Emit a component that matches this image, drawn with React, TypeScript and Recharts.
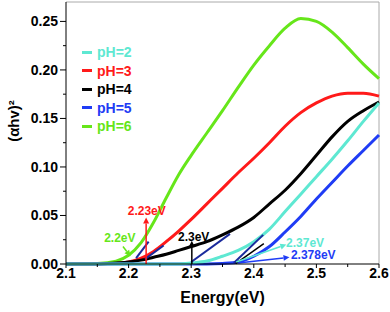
import { LineChart, Line, XAxis, YAxis, Legend, ReferenceLine, ReferenceDot } from "recharts";

const FONT = "Arial, 'Liberation Sans', sans-serif";

const energy = [2.1, 2.15, 2.18, 2.2, 2.22, 2.24, 2.26, 2.28, 2.3, 2.325, 2.35, 2.375, 2.4, 2.425, 2.45, 2.475, 2.5, 2.525, 2.55, 2.575, 2.6];
const ph2 = [0, 0, 0, 0, 0, 0, 0, 0, 0.001, 0.003, 0.008, 0.014, 0.023, 0.036, 0.054, 0.072, 0.09, 0.108, 0.127, 0.147, 0.166];
const ph3 = [0, 0, 0.0005, 0.002, 0.006, 0.013, 0.023, 0.034, 0.046, 0.062, 0.078, 0.094, 0.109, 0.125, 0.142, 0.156, 0.166, 0.173, 0.176, 0.176, 0.173];
const ph4 = [0, 0, 0.001, 0.002, 0.004, 0.007, 0.01, 0.014, 0.018, 0.023, 0.03, 0.038, 0.048, 0.062, 0.076, 0.093, 0.112, 0.131, 0.147, 0.158, 0.167];
const ph5 = [0, 0, 0, 0, 0, 0, 0, 0, 0, 0, 0.0005, 0.002, 0.008, 0.018, 0.033, 0.049, 0.067, 0.084, 0.101, 0.117, 0.133];
const ph6 = [0, 0.0005, 0.003, 0.009, 0.022, 0.043, 0.068, 0.092, 0.112, 0.135, 0.158, 0.182, 0.205, 0.225, 0.243, 0.253, 0.25, 0.239, 0.223, 0.206, 0.191];

const xTicks = [2.1, 2.15, 2.2, 2.25, 2.3, 2.35, 2.4, 2.45, 2.5, 2.55, 2.6];
const yTicks = [0, 0.025, 0.05, 0.075, 0.1, 0.125, 0.15, 0.175, 0.2, 0.225, 0.25];

const series = [
  { key: "ph2", name: "pH=2", color: "#5ee8d2" },
  { key: "ph3", name: "pH=3", color: "#ff1a1a" },
  { key: "ph4", name: "pH=4", color: "#000000" },
  { key: "ph5", name: "pH=5", color: "#1f3cf5" },
  { key: "ph6", name: "pH=6", color: "#66e61a" },
];
// draw order: cyan ends up on top near the baseline
const drawOrder = ["ph6", "ph3", "ph4", "ph5", "ph2"];

// tangent lines used to read the band gaps [x1, y1, x2, y2]
const tangents = [
  [2.212, 0.006, 2.232, 0.023],
  [2.226, 0.005, 2.256, 0.019],
  [2.3, 0.002, 2.362, 0.031],
  [2.368, 0.001, 2.415, 0.03],
];
const blackTangent = [2.371, 0.0005, 2.416, 0.021];

const arrows = [
  { from: [2.191, 0.018], to: [2.203, 0.008], color: "#66e61a" },
  { from: [2.228, 0.0], to: [2.228, 0.048], color: "#ff1a1a" },
  { from: [2.301, 0.0], to: [2.301, 0.024], color: "#000000" },
  { from: [2.372, 0.002], to: [2.452, 0.02], color: "#5ee8d2" },
  { from: [2.375, 0.001], to: [2.457, 0.007], color: "#1f3cf5" },
];

const notes = [
  { x: 2.186, y: 0.027, text: "2.2eV", color: "#66e61a" },
  { x: 2.229, y: 0.055, text: "2.23eV", color: "#ff1a1a" },
  { x: 2.304, y: 0.028, text: "2.3eV", color: "#000000" },
  { x: 2.482, y: 0.022, text: "2.37eV", color: "#5ee8d2" },
  { x: 2.495, y: 0.009, text: "2.378eV", color: "#1f3cf5" },
];

const data = energy.map((e, i) => ({
  e, ph2: ph2[i], ph3: ph3[i], ph4: ph4[i], ph5: ph5[i], ph6: ph6[i],
}));

const TICK_SIZE = 6;
const TICK_MARGIN = 2;
const onStep = (v: number, step: number) => Math.abs(v / step - Math.round(v / step)) < 1e-6;

const YTick = (p: any) => {
  const v = p.payload.value;
  const major = onStep(v, 0.05);
  const ax = p.x + TICK_SIZE + TICK_MARGIN;
  return (
    <g>
      <line x1={ax} x2={ax - (major ? 6 : 3)} y1={p.y} y2={p.y} stroke="#000" />
      {major && (
        <text x={ax - 8} y={p.y + 5} textAnchor="end" fontFamily={FONT} fontWeight={700} fontSize={14} fill="#000">
          {v.toFixed(2)}
        </text>
      )}
    </g>
  );
};

const XTick = (p: any) => {
  const v = p.payload.value;
  const major = onStep(v, 0.1);
  const ay = p.y - TICK_SIZE - TICK_MARGIN;
  return (
    <g>
      <line x1={p.x} x2={p.x} y1={ay} y2={ay + (major ? 4 : 3)} stroke="#000" />
      {major && (
        <text x={p.x} y={ay + 14} textAnchor="middle" fontFamily={FONT} fontWeight={700} fontSize={14} fill="#000">
          {v.toFixed(1)}
        </text>
      )}
    </g>
  );
};

const arrowShape = (color: string) => (p: any) => {
  const { x1, y1, x2, y2 } = p;
  const ang = Math.atan2(y2 - y1, x2 - x1);
  const len = 6, w = 3;
  const bx = x2 - len * Math.cos(ang), by = y2 - len * Math.sin(ang);
  const nx = -Math.sin(ang) * w, ny = Math.cos(ang) * w;
  return (
    <g>
      <line x1={x1} y1={y1} x2={bx} y2={by} stroke={color} strokeWidth={1.5} />
      <polygon points={`${x2},${y2} ${bx + nx},${by + ny} ${bx - nx},${by - ny}`} fill={color} />
    </g>
  );
};

const YLabel = (p: any) => {
  const vb = p.viewBox;
  const cx = vb.x + 13;
  const cy = vb.y + vb.height / 2 - 12;
  return (
    <text x={cx} y={cy} transform={`rotate(-90 ${cx} ${cy})`} textAnchor="middle" dominantBaseline="central"
      fontFamily={FONT} fontWeight={700} fontSize={15} fill="#000">
      (αhv)²
    </text>
  );
};

const LegendBox = () => (
  <div style={{ fontFamily: FONT, fontWeight: 700, fontSize: 14 }}>
    {series.map(s => (
      <div key={s.key} style={{ display: "flex", alignItems: "center", height: 18.5, color: s.color }}>
        <span style={{ display: "inline-block", width: 10, height: 3, background: s.color, marginRight: 5 }} />
        {s.name}
      </div>
    ))}
  </div>
);

export default function App() {
  return (
    <div style={{ position: "absolute", left: 0, top: 0, background: "#fff" }}>
      <LineChart width={390} height={312} data={data} margin={{ top: 2, right: 11, left: 0, bottom: 0 }}>
        <XAxis
          dataKey="e" type="number" domain={[2.1, 2.6]} ticks={xTicks} interval={0}
          height={48} tickSize={TICK_SIZE} tickMargin={TICK_MARGIN} tickLine={false}
          axisLine={{ stroke: "#000" }} tick={<XTick />}
          label={{ value: "Energy(eV)", position: "insideBottom", offset: 9, fontFamily: FONT, fontWeight: 700, fontSize: 16, fill: "#000" }}
        />
        <YAxis
          type="number" domain={[0, 0.27]} ticks={yTicks} interval={0}
          width={66} tickSize={TICK_SIZE} tickMargin={TICK_MARGIN} tickLine={false}
          axisLine={{ stroke: "#000" }} tick={<YTick />}
          label={<YLabel />}
        />
        <ReferenceLine y={0.27} stroke="#aaaaaa" />
        <ReferenceLine x={2.6} stroke="#aaaaaa" />
        <Legend layout="vertical" align="center" verticalAlign="middle" content={<LegendBox />}
          wrapperStyle={{ left: 82, top: 43, width: "auto", height: "auto" }} />
        {drawOrder.map(k => {
          const s = series.find(q => q.key === k)!;
          return (
            <Line key={k} dataKey={k} name={s.name} type="monotone" stroke={s.color} strokeWidth={3}
              dot={false} activeDot={false} isAnimationActive={false} />
          );
        })}
        {tangents.map((t, i) => (
          <ReferenceLine key={"t" + i} segment={[{ x: t[0], y: t[1] }, { x: t[2], y: t[3] }]} stroke="#1a2a9c" strokeWidth={2} />
        ))}
        <ReferenceLine segment={[{ x: blackTangent[0], y: blackTangent[1] }, { x: blackTangent[2], y: blackTangent[3] }]} stroke="#000" strokeWidth={1.5} />
        {arrows.map((a, i) => (
          <ReferenceLine key={"a" + i} segment={[{ x: a.from[0], y: a.from[1] }, { x: a.to[0], y: a.to[1] }]}
            shape={arrowShape(a.color)} />
        ))}
        {notes.map((n, i) => (
          <ReferenceDot key={"n" + i} x={n.x} y={n.y} r={0}
            shape={(p: any) => (
              <text x={p.cx} y={p.cy} textAnchor="middle" dominantBaseline="central"
                fontFamily={FONT} fontWeight={700} fontSize={12} fill={n.color}>
                {n.text}
              </text>
            )}
          />
        ))}
      </LineChart>
    </div>
  );
}
